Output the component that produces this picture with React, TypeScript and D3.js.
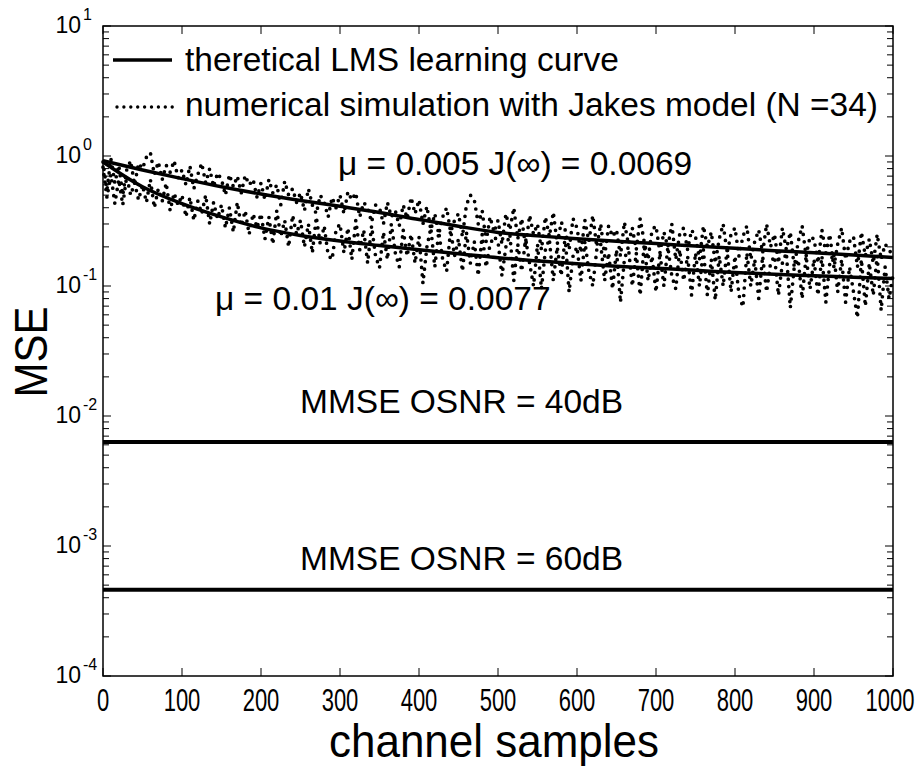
import React from "react";
import * as d3 from "d3";

// ---------- data ----------
const xTicks = [0, 100, 200, 300, 400, 500, 600, 700, 800, 900, 1000];
const yDecades = [-4, -3, -2, -1, 0, 1];

// theoretical LMS learning curves, sampled every 50 channel samples
const theoryX = [0, 50, 100, 150, 200, 250, 300, 350, 400, 450, 500, 550, 600, 650, 700, 750, 800, 850, 900, 950, 1000];
const theoryMu005 = [0.92, 0.78, 0.67, 0.58, 0.51, 0.455, 0.41, 0.368, 0.325, 0.288, 0.258, 0.243, 0.231, 0.221, 0.212, 0.203, 0.195, 0.187, 0.18, 0.173, 0.166];
const theoryMu01 = [0.9, 0.58, 0.43, 0.34, 0.28, 0.245, 0.222, 0.205, 0.19, 0.177, 0.165, 0.156, 0.148, 0.142, 0.137, 0.132, 0.127, 0.123, 0.12, 0.117, 0.114];

// numerical simulation (Jakes model, N = 34), sampled every 5 channel samples
const simStep = 5;
const simMu005 = [
  0.9, 0.55, 0.95, 0.62, 0.85, 0.5, 0.78, 0.92, 0.6, 0.88,
  0.8, 0.98, 1.06, 0.72, 0.9, 0.66, 0.85, 0.75, 0.92, 0.68,
  0.78, 0.6, 0.84, 0.56, 0.72, 0.88, 0.62, 0.8, 0.58, 0.74,
  0.66, 0.5, 0.72, 0.58, 0.7, 0.52, 0.71, 0.6, 0.66, 0.48,
  0.62, 0.46, 0.66, 0.52, 0.6, 0.42, 0.64, 0.5, 0.56, 0.44,
  0.52, 0.38, 0.56, 0.42, 0.36, 0.5, 0.44, 0.34, 0.48, 0.4,
  0.5, 0.36, 0.53, 0.46, 0.52, 0.34, 0.44, 0.4, 0.31, 0.42,
  0.4, 0.3, 0.44, 0.34, 0.38, 0.29, 0.42, 0.33, 0.48, 0.36,
  0.46, 0.3, 0.41, 0.27, 0.36, 0.25, 0.34, 0.4, 0.26, 0.32,
  0.36, 0.24, 0.42, 0.5, 0.46, 0.3, 0.38, 0.22, 0.34, 0.26,
  0.32, 0.21, 0.36, 0.27, 0.4, 0.23, 0.33, 0.2, 0.35, 0.25,
  0.3, 0.19, 0.34, 0.24, 0.37, 0.21, 0.31, 0.27, 0.19, 0.33,
  0.28, 0.18, 0.32, 0.22, 0.35, 0.2, 0.3, 0.17, 0.29, 0.24,
  0.27, 0.17, 0.31, 0.21, 0.28, 0.19, 0.33, 0.22, 0.16, 0.27,
  0.29, 0.18, 0.26, 0.2, 0.3, 0.16, 0.25, 0.28, 0.19, 0.27,
  0.24, 0.16, 0.29, 0.2, 0.26, 0.15, 0.23, 0.3, 0.18, 0.25,
  0.28, 0.17, 0.24, 0.29, 0.16, 0.22, 0.27, 0.18, 0.3, 0.2,
  0.25, 0.15, 0.28, 0.19, 0.26, 0.14, 0.22, 0.29, 0.17, 0.24,
  0.23, 0.15, 0.27, 0.18, 0.25, 0.14, 0.21, 0.28, 0.16, 0.22,
  0.24, 0.14, 0.26, 0.17, 0.23, 0.15, 0.25, 0.16, 0.21, 0.19,
  0.17,
];
const simMu01 = [
  0.82, 0.48, 0.72, 0.43, 0.66, 0.42, 0.7, 0.5, 0.62, 0.46,
  0.6, 0.44, 0.66, 0.4, 0.56, 0.45, 0.62, 0.38, 0.52, 0.42,
  0.5, 0.34, 0.48, 0.32, 0.45, 0.36, 0.5, 0.3, 0.44, 0.33,
  0.42, 0.28, 0.4, 0.26, 0.44, 0.29, 0.38, 0.25, 0.36, 0.28,
  0.36, 0.23, 0.34, 0.21, 0.38, 0.24, 0.32, 0.2, 0.35, 0.25,
  0.32, 0.2, 0.3, 0.18, 0.34, 0.21, 0.29, 0.173, 0.16, 0.27,
  0.3, 0.18, 0.28, 0.16, 0.32, 0.19, 0.27, 0.15, 0.29, 0.17,
  0.138, 0.26, 0.16, 0.3, 0.18, 0.14, 0.27, 0.17, 0.25, 0.15,
  0.24, 0.105, 0.2, 0.28, 0.14, 0.26, 0.16, 0.13, 0.27, 0.17,
  0.23, 0.13, 0.26, 0.15, 0.22, 0.12, 0.25, 0.14, 0.21, 0.24,
  0.22, 0.12, 0.2, 0.25, 0.11, 0.21, 0.13, 0.23, 0.15, 0.1,
  0.21, 0.095, 0.19, 0.23, 0.11, 0.2, 0.12, 0.24, 0.09, 0.17,
  0.2, 0.11, 0.22, 0.13, 0.1, 0.19, 0.21, 0.11, 0.18, 0.095,
  0.19, 0.075, 0.16, 0.2, 0.1, 0.18, 0.085, 0.21, 0.11, 0.17,
  0.09, 0.18, 0.1, 0.2, 0.12, 0.095, 0.19, 0.11, 0.17, 0.085,
  0.18, 0.1, 0.19, 0.085, 0.16, 0.078, 0.17, 0.1, 0.19, 0.09,
  0.17, 0.085, 0.069, 0.18, 0.1, 0.16, 0.08, 0.17, 0.09, 0.15,
  0.17, 0.085, 0.15, 0.18, 0.068, 0.14, 0.16, 0.08, 0.17, 0.095,
  0.16, 0.085, 0.17, 0.075, 0.15, 0.18, 0.09, 0.16, 0.075, 0.14,
  0.09, 0.057, 0.16, 0.07, 0.15, 0.085, 0.17, 0.065, 0.14, 0.08,
  0.12,
];

const mmse40 = 0.0063;
const mmse60 = 0.00046;

const legendLabels = ["theretical LMS learning curve", "numerical simulation with Jakes model (N =34)"];
const annotations = [
  { text: "\u03bc = 0.005 J(\u221e) = 0.0069", x: 338, y: 175 },
  { text: "\u03bc = 0.01 J(\u221e) = 0.0077", x: 215, y: 310 },
  { text: "MMSE OSNR = 40dB", x: 300, y: 413 },
  { text: "MMSE OSNR = 60dB", x: 300, y: 570 },
];

// ---------- layout ----------
const W = 922;
const H = 766;
const L = 103, R = 893, T = 26, B = 676;
const FONT = "'Liberation Sans', Arial, Helvetica, sans-serif";

export default function App() {
  const x = d3.scaleLinear().domain([0, 1000]).range([L, R]);
  const y = d3.scaleLog().domain([1e-4, 10]).range([B, T]);

  const line = d3
    .line<[number, number]>()
    .x((d) => x(d[0]))
    .y((d) => y(d[1]))
    .curve(d3.curveMonotoneX);
  const rawLine = d3
    .line<[number, number]>()
    .x((d) => x(d[0]))
    .y((d) => y(d[1]));

  const th005 = theoryX.map((v, i) => [v, theoryMu005[i]] as [number, number]);
  const th01 = theoryX.map((v, i) => [v, theoryMu01[i]] as [number, number]);
  const sim005 = simMu005.map((v, i) => [i * simStep, v] as [number, number]);
  const sim01 = simMu01.map((v, i) => [i * simStep, v] as [number, number]);

  const minor: number[] = [];
  for (let dcd = -4; dcd < 1; dcd++) {
    for (let k = 2; k <= 9; k++) minor.push(k * Math.pow(10, dcd));
  }
  const tickLen = 8;

  return (
    <svg
      width={W}
      height={H}
      style={{ position: "absolute", left: 0, top: 0, background: "#fff" }}
      fontFamily={FONT}
    >
      <rect x={0} y={0} width={W} height={H} fill="#fff" />

      {/* simulation (dotted) */}
      <path d={rawLine(sim005) || ""} fill="none" stroke="#000" strokeWidth={3.7} strokeLinecap="round" strokeDasharray="0 7.5" />
      <path d={rawLine(sim01) || ""} fill="none" stroke="#000" strokeWidth={3.7} strokeLinecap="round" strokeDasharray="0 7.5" />

      {/* theory curves */}
      <path d={line(th005) || ""} fill="none" stroke="#000" strokeWidth={3.5} />
      <path d={line(th01) || ""} fill="none" stroke="#000" strokeWidth={3.5} />

      {/* MMSE lines */}
      <line x1={x(0)} x2={x(1000)} y1={y(mmse40)} y2={y(mmse40)} stroke="#000" strokeWidth={4} />
      <line x1={x(0)} x2={x(1000)} y1={y(mmse60)} y2={y(mmse60)} stroke="#000" strokeWidth={4} />

      {/* frame */}
      <rect x={L} y={T} width={R - L} height={B - T} fill="none" stroke="#000" strokeWidth={1.5} />

      {/* x ticks */}
      {xTicks.map((t) => (
        <g key={"xt" + t}>
          <line x1={x(t)} x2={x(t)} y1={B} y2={B - tickLen} stroke="#000" strokeWidth={1} />
          <line x1={x(t)} x2={x(t)} y1={T} y2={T + tickLen} stroke="#000" strokeWidth={1} />
          <text
            transform={`translate(${t === 1000 ? x(t) - 3 : x(t)},711) scale(1,1.4)`}
            fontSize={22}
            textAnchor="middle"
          >
            {t}
          </text>
        </g>
      ))}

      {/* y ticks */}
      {yDecades.map((e) => {
        const yy = y(Math.pow(10, e));
        return (
          <g key={"yt" + e}>
            <line x1={L} x2={L + tickLen} y1={yy} y2={yy} stroke="#000" strokeWidth={1} />
            <line x1={R} x2={R - tickLen} y1={yy} y2={yy} stroke="#000" strokeWidth={1} />
            <text x={81} y={yy + 7} fontSize={23} textAnchor="end">10</text>
            <text x={83} y={yy - 6} fontSize={16}>{e}</text>
          </g>
        );
      })}
      {minor.map((m, i) => (
        <g key={"ym" + i}>
          <line x1={L} x2={L + 6} y1={y(m)} y2={y(m)} stroke="#000" strokeWidth={1} />
          <line x1={R} x2={R - 6} y1={y(m)} y2={y(m)} stroke="#000" strokeWidth={1} />
        </g>
      ))}

      {/* axis labels */}
      <text x={494} y={757} fontSize={46} textAnchor="middle" textLength={330} lengthAdjust="spacingAndGlyphs">
        channel samples
      </text>
      <text
        transform="translate(47,352) rotate(-90)"
        fontSize={47}
        textAnchor="middle"
        textLength={91}
        lengthAdjust="spacingAndGlyphs"
      >
        MSE
      </text>

      {/* legend */}
      <line x1={113} x2={172} y1={60} y2={60} stroke="#000" strokeWidth={3.5} />
      <text x={185} y={71} fontSize={33.5}>{legendLabels[0]}</text>
      <line x1={117} x2={173} y1={107} y2={107} stroke="#000" strokeWidth={3.4} strokeLinecap="round" strokeDasharray="0 6.9" />
      <text x={185} y={116} fontSize={33.5} textLength={693} lengthAdjust="spacingAndGlyphs">{legendLabels[1]}</text>

      {/* annotations */}
      {annotations.map((a, i) => (
        <text key={"an" + i} x={a.x} y={a.y} fontSize={33.5}>{a.text}</text>
      ))}
    </svg>
  );
}
